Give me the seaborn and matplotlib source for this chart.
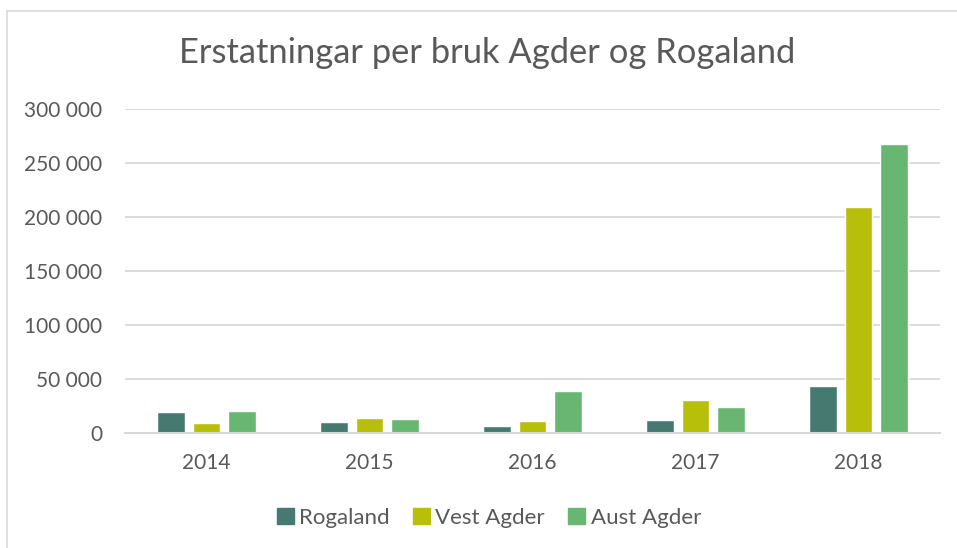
import matplotlib
matplotlib.use("Agg")
import matplotlib.pyplot as plt
import matplotlib.ticker as mticker
from matplotlib.lines import Line2D
import seaborn as sns
import pandas as pd

years = ["2014", "2015", "2016", "2017", "2018"]
series = ["Rogaland", "Vest Agder", "Aust Agder"]
rogaland = [19800, 9900, 6500, 12000, 43900]
vest_agder = [9300, 13600, 11100, 30600, 209300]
aust_agder = [20400, 13000, 38600, 24400, 267600]
colors = ["#467A70", "#B8BF0A", "#69B673"]

df = pd.DataFrame({
    "year": years * 3,
    "series": [series[0]] * 5 + [series[1]] * 5 + [series[2]] * 5,
    "value": rogaland + vest_agder + aust_agder,
})

sns.set_theme(style="white")
plt.rcParams["font.family"] = ["Lato", "DejaVu Sans"]
text_color = "#595959"
grid_color = "#D9D9D9"

W, H = 957, 548
fig = plt.figure(figsize=(W / 100, H / 100), dpi=100)
ax = fig.add_axes([125 / W, 1 - 433 / H, 815 / W, 324 / H])

sns.barplot(data=df, x="year", y="value", hue="series", order=years,
            hue_order=series, palette=colors, width=0.66, gap=0.22,
            ax=ax, legend=False, saturation=1)

ax.set_ylim(0, 300000)
ax.set_xlim(-0.5, 4.5)
ax.yaxis.set_major_locator(mticker.MultipleLocator(50000))
ax.yaxis.set_major_formatter(mticker.FuncFormatter(
    lambda v, p: f"{int(v):,}".replace(",", " ")))
ax.grid(axis="y", color=grid_color, linewidth=1.3)
ax.set_axisbelow(True)
for s in ["left", "right", "top"]:
    ax.spines[s].set_visible(False)
ax.spines["bottom"].set_color(grid_color)
ax.spines["bottom"].set_linewidth(1.5)
ax.tick_params(axis="both", length=0, labelsize=15, colors=text_color)
ax.tick_params(axis="y", pad=16.5)
ax.tick_params(axis="x", pad=14.5)
ax.set_xlabel("")
ax.set_ylabel("")

fig.text(487 / W, 1 - 53 / H, "Erstatningar per bruk Agder og Rogaland",
         ha="center", va="center", fontsize=24.8, color=text_color)

handles = [plt.Rectangle((0, 0), 1, 1, color=c) for c in colors]
fig.legend(handles, series, loc="center", bbox_to_anchor=(489 / W, 1 - 518 / H),
           ncol=3, frameon=False, fontsize=16, labelcolor=text_color,
           handlelength=0.75, handleheight=0.75, handletextpad=0.25,
           columnspacing=1.05)

# outer chart border
fig.add_artist(Line2D([6.5 / W, 1], [1 - 10.5 / H, 1 - 10.5 / H],
                      transform=fig.transFigure, color="#D9D9D9", linewidth=1.2))
fig.add_artist(Line2D([6.5 / W, 6.5 / W], [0, 1 - 10.5 / H],
                      transform=fig.transFigure, color="#D9D9D9", linewidth=1.2))

fig.savefig("out.png", dpi=100)
